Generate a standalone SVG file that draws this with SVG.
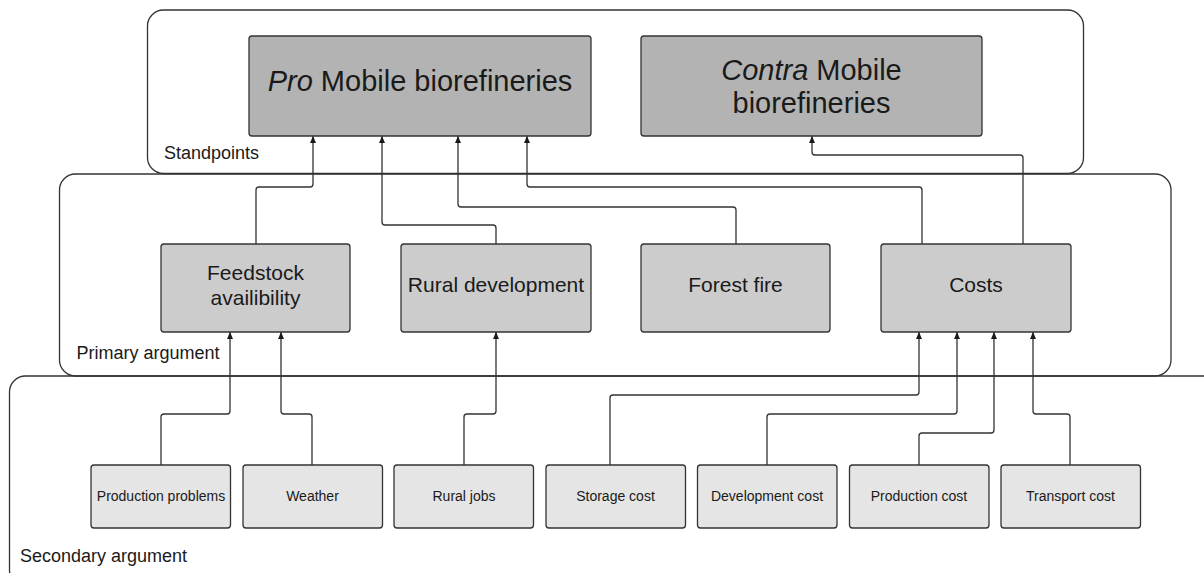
<svg xmlns="http://www.w3.org/2000/svg" width="1204" height="573" viewBox="0 0 1204 573">
<style>
.cont{fill:none;stroke:#333;stroke-width:1.3}
.box{stroke:#333;stroke-width:1.3}
.std{fill:#b3b3b3}
.pri{fill:#cccccc}
.sec{fill:#e5e5e5}
text{font-family:"Liberation Sans",Arial,sans-serif;fill:#1a1a1a}
.t28{font-size:29px;text-anchor:middle}
.t21{font-size:21px;text-anchor:middle}
.t14{font-size:14px;text-anchor:middle}
.lab{font-size:18px}
.conn path{fill:none;stroke:#333;stroke-width:1.3;marker-end:url(#arr)}
</style>
<defs>
<marker id="arr" viewBox="0 0 7 6" refX="7" refY="3" markerWidth="7" markerHeight="6" markerUnits="userSpaceOnUse" orient="auto">
<path d="M0,0 L7,3 L0,6 z" fill="#1a1a1a"/>
</marker>
</defs>
<g id="containers">
<g id="standpoints"><rect class="cont" x="147.5" y="10" width="936" height="163.5" rx="16"/><text class="lab" x="164" y="159">Standpoints</text></g>
<g id="primary"><rect class="cont" x="59.5" y="174" width="1111.5" height="202" rx="16"/><text class="lab" x="76.5" y="359">Primary argument</text></g>
<g id="secondary"><rect class="cont" x="9.5" y="376" width="1210" height="210" rx="16"/><text class="lab" x="20" y="562">Secondary argument</text></g>
</g>
<g id="connectors" class="conn">
<path d="M256 244 V190 Q256 187 259 187 H310 Q313 187 313 184 V136"/>
<path d="M496 244 V228 Q496 225 493 225 H385 Q382 225 382 222 V136"/>
<path d="M736 244 V210 Q736 207 733 207 H461 Q458 207 458 204 V136"/>
<path d="M922 244 V190 Q922 187 919 187 H530 Q527 187 527 184 V136"/>
<path d="M1023 244 V158 Q1023 155 1020 155 H815 Q812 155 812 152 V136"/>
<path d="M161 465 V417 Q161 414 164 414 H227 Q230 414 230 411 V332"/>
<path d="M312 465 V417 Q312 414 309 414 H284 Q281 414 281 411 V332"/>
<path d="M464 465 V417 Q464 414 467 414 H493 Q496 414 496 411 V332"/>
<path d="M610 465 V398 Q610 395 613 395 H916 Q919 395 919 392 V332"/>
<path d="M767 465 V417 Q767 414 770 414 H954 Q957 414 957 411 V332"/>
<path d="M919 465 V436 Q919 433 922 433 H991 Q994 433 994 430 V332"/>
<path d="M1070 465 V417 Q1070 414 1067 414 H1036 Q1033 414 1033 411 V332"/>
</g>
<g id="pro"><rect class="box std" x="249" y="36" width="342" height="100" rx="3"/><text class="t28" x="420" y="91"><tspan font-style="italic">Pro</tspan> Mobile biorefineries</text></g>
<g id="contra"><rect class="box std" x="641" y="36" width="341" height="100" rx="3"/><text class="t28" x="811.5" y="80"><tspan font-style="italic">Contra</tspan> Mobile</text><text class="t28" x="811.5" y="113">biorefineries</text></g>
<g id="feedstock"><rect class="box pri" x="161" y="244" width="189" height="88" rx="3"/><text class="t21" x="255.5" y="280">Feedstock</text><text class="t21" x="255.5" y="305">availibility</text></g>
<g id="rural-development"><rect class="box pri" x="401" y="244" width="190" height="88" rx="3"/><text class="t21" x="496" y="292">Rural development</text></g>
<g id="forest-fire"><rect class="box pri" x="641" y="244" width="189" height="88" rx="3"/><text class="t21" x="735.5" y="292">Forest fire</text></g>
<g id="costs"><rect class="box pri" x="881" y="244" width="190" height="88" rx="3"/><text class="t21" x="976" y="292">Costs</text></g>
<g id="production-problems"><rect class="box sec" x="91" y="465" width="139.5" height="63" rx="3"/><text class="t14" x="161" y="501">Production problems</text></g>
<g id="weather"><rect class="box sec" x="243" y="465" width="139.5" height="63" rx="3"/><text class="t14" x="312.5" y="501">Weather</text></g>
<g id="rural-jobs"><rect class="box sec" x="394" y="465" width="139.5" height="63" rx="3"/><text class="t14" x="464" y="501">Rural jobs</text></g>
<g id="storage-cost"><rect class="box sec" x="546" y="465" width="139.5" height="63" rx="3"/><text class="t14" x="615.5" y="501">Storage cost</text></g>
<g id="development-cost"><rect class="box sec" x="697.5" y="465" width="139.5" height="63" rx="3"/><text class="t14" x="767" y="501">Development cost</text></g>
<g id="production-cost"><rect class="box sec" x="849.5" y="465" width="139.5" height="63" rx="3"/><text class="t14" x="919" y="501">Production cost</text></g>
<g id="transport-cost"><rect class="box sec" x="1001" y="465" width="139.5" height="63" rx="3"/><text class="t14" x="1070.5" y="501">Transport cost</text></g>
</svg>
